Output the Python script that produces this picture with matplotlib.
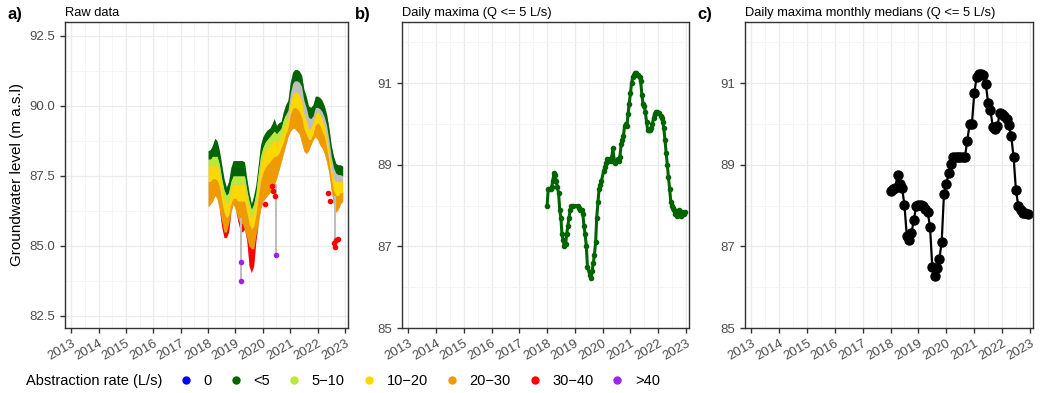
import numpy as np
import pandas as pd
import matplotlib
matplotlib.use("Agg")
import matplotlib.pyplot as plt
import matplotlib.dates as mdates
from matplotlib.lines import Line2D
from matplotlib.ticker import MultipleLocator, FixedLocator, FormatStrFormatter

plt.rcParams['font.family'] = ['Liberation Sans', 'DejaVu Sans']

# ---- data -------------------------------------------------------------
months = pd.date_range('2018-01-01', periods=60, freq='MS')

# panel a: raw data bands (top of green ... bottom of red), monthly
a_green_top = [88.4, 88.45, 88.6, 88.85, 88.75, 88.4, 87.9, 87.4, 87.1, 87.3, 87.8, 88.05,
               88.05, 88.05, 88.05, 88.05, 88.0, 87.4, 86.9, 86.5, 86.8, 87.2, 87.9, 88.6,
               88.9, 89.05, 89.15, 89.2, 89.35, 89.55, 89.3, 89.4, 89.45, 89.8, 90.05, 90.2,
               90.85, 91.2, 91.3, 91.3, 91.25, 91.1, 90.6, 90.35, 90.0, 89.95, 90.05, 90.35,
               90.35, 90.3, 90.2, 90.0, 89.7, 89.2, 88.6, 88.2, 87.95, 87.9, 87.9, 87.85]
a_green_bot = [88.1, 88.1, 88.2, 88.2, 88.2, 87.9, 87.4, 87.0, 86.8, 86.9, 87.3, 87.5,
               87.5, 87.5, 87.5, 87.5, 87.5, 87.0, 86.6, 86.3, 86.5, 86.9, 87.6, 88.2,
               88.5, 88.7, 88.8, 88.9, 89.0, 89.1, 89.0, 89.1, 89.2, 89.5, 89.7, 89.85,
               90.45, 90.8, 90.9, 90.9, 90.85, 90.7, 90.2, 89.95, 89.6, 89.55, 89.65, 89.95,
               89.95, 89.9, 89.8, 89.6, 89.3, 88.8, 88.2, 87.8, 87.6, 87.55, 87.55, 87.5]
a_yellow_top = [87.85, 87.85, 87.9, 87.85, 87.85, 87.6, 87.1, 86.7, 86.5, 86.6, 87.0, 87.2,
                87.2, 87.2, 87.2, 87.2, 87.2, 86.7, 86.3, 86.0, 86.2, 86.6, 87.3, 87.9,
                88.2, 88.4, 88.5, 88.6, 88.7, 88.8, 88.7, 88.8, 88.9, 89.2, 89.4, 89.55,
                90.1, 90.4, 90.5, 90.5, 90.4, 90.2, 89.7, 89.5, 89.2, 89.2, 89.4, 89.7,
                89.8, 89.7, 89.5, 89.3, 88.9, 88.4, 87.8, 87.4, 87.3, 87.3, 87.3, 87.3]
a_orange_top = [87.3, 87.3, 87.4, 87.4, 87.35, 87.1, 86.6, 86.2, 86.0, 86.1, 86.5, 86.7,
                86.7, 86.6, 86.6, 86.6, 86.6, 86.2, 85.8, 85.6, 85.7, 86.1, 86.7, 87.3,
                87.6, 87.8, 87.9, 88.0, 88.1, 88.2, 88.2, 88.3, 88.5, 88.7, 89.0, 89.2,
                89.7, 89.9, 89.95, 89.9, 89.8, 89.6, 89.2, 89.0, 88.8, 88.8, 89.0, 89.3,
                89.4, 89.3, 89.1, 88.9, 88.5, 88.0, 87.4, 87.0, 86.8, 86.8, 86.9, 86.9]
a_orange_bot = [86.4, 86.5, 86.6, 86.8, 86.7, 86.3, 85.9, 85.5, 85.5, 85.8, 86.2, 86.5,
                86.3, 86.0, 85.8, 85.8, 85.6, 85.3, 85.0, 84.9, 84.9, 85.4, 85.8, 86.3,
                86.6, 86.7, 86.8, 86.9, 87.0, 87.2, 87.4, 87.7, 88.0, 88.3, 88.6, 88.9,
                89.1, 89.2, 89.2, 89.1, 89.0, 88.7, 88.4, 88.3, 88.4, 88.6, 88.8, 88.9,
                88.8, 88.6, 88.5, 88.3, 88.0, 87.6, 87.0, 86.5, 86.2, 86.3, 86.5, 86.6]
a_red_bot = [86.4, 86.5, 86.6, 86.8, 86.7, 86.3, 85.7, 85.3, 85.3, 85.5, 86.2, 86.5,
             86.3, 85.9, 85.6, 85.5, 85.6, 85.2, 84.3, 84.05, 84.3, 85.2, 85.8, 86.3,
             86.6, 86.7, 86.8, 86.9, 87.0, 87.2, 87.4, 87.7, 88.0, 88.3, 88.6, 88.9,
             89.1, 89.2, 89.2, 89.1, 89.0, 88.7, 88.4, 88.3, 88.4, 88.6, 88.8, 88.9,
             88.8, 88.6, 88.5, 88.3, 88.0, 87.6, 87.0, 86.5, 86.2, 86.3, 86.5, 86.6]

# isolated low readings (gray line drops) in panel a
spike_dates = pd.to_datetime(['2019-03-20', '2020-06-18', '2022-08-20'])
spike_low = [83.75, 84.68, 84.97]
spike_high = [86.0, 87.2, 86.8]
red_dates = pd.to_datetime(['2020-01-25', '2020-05-05', '2020-05-20', '2020-06-10',
                            '2022-05-25', '2022-06-10', '2022-08-10', '2022-08-20',
                            '2022-09-05', '2022-10-05'])
red_vals = [86.5, 87.15, 86.95, 86.8, 86.9, 86.6, 85.1, 84.97, 85.2, 85.25]
purple_dates = pd.to_datetime(['2019-03-20', '2019-03-20', '2020-06-18'])
purple_vals = [84.44, 83.75, 84.68]

# panel b: daily maxima (Q <= 5 L/s)
b_dates = pd.to_datetime([
    '2018-01-01', '2018-01-15', '2018-02-01', '2018-02-15', '2018-03-01', '2018-03-15',
    '2018-04-01', '2018-04-15', '2018-05-01', '2018-05-15', '2018-06-01', '2018-06-15',
    '2018-07-01', '2018-07-15', '2018-08-01', '2018-08-15', '2018-09-01', '2018-09-15',
    '2018-10-01', '2018-10-15', '2018-11-01', '2018-11-15', '2018-12-01', '2019-02-15',
    '2019-03-01', '2019-03-15', '2019-04-01', '2019-04-15', '2019-05-01', '2019-05-15',
    '2019-06-01', '2019-06-15', '2019-07-15', '2019-08-01', '2019-08-15', '2019-09-01',
    '2019-09-15', '2019-10-01', '2019-10-15', '2019-11-01', '2019-11-15', '2019-12-01',
    '2019-12-15', '2020-01-15', '2020-02-01', '2020-02-15', '2020-03-01', '2020-03-15',
    '2020-04-01', '2020-04-15', '2020-05-01', '2020-05-15', '2020-06-01', '2020-06-15',
    '2020-07-01', '2020-07-15', '2020-08-01', '2020-08-15', '2020-09-01', '2020-09-15',
    '2020-10-01', '2020-10-15', '2020-11-01', '2020-11-15', '2020-12-01', '2020-12-15',
    '2021-01-01', '2021-01-15', '2021-02-01', '2021-02-15', '2021-03-01', '2021-03-15',
    '2021-04-01', '2021-04-15', '2021-05-01', '2021-05-15', '2021-06-01', '2021-06-15',
    '2021-07-01', '2021-07-15', '2021-08-01', '2021-08-15', '2021-09-01', '2021-09-15',
    '2021-10-01', '2021-10-15', '2021-11-01', '2021-11-15', '2021-12-01', '2021-12-15',
    '2022-01-15', '2022-02-01', '2022-02-15', '2022-03-01', '2022-03-15', '2022-04-01',
    '2022-04-15', '2022-05-01', '2022-05-15', '2022-06-01', '2022-06-15', '2022-07-01',
    '2022-07-15', '2022-08-01', '2022-08-15', '2022-09-01', '2022-09-15', '2022-10-01',
    '2022-10-15', '2022-11-01', '2022-11-15', '2022-12-01', '2022-12-15'])
b_vals = [88.0, 88.4, 88.4, 88.4, 88.45, 88.6,
          88.8, 88.75, 88.6, 88.45, 88.3, 87.9,
          87.7, 87.3, 87.15, 87.0, 87.05, 87.3,
          87.5, 87.7, 87.9, 88.0, 88.0, 88.0,
          87.95, 87.9, 87.9, 87.8, 87.5, 87.3,
          87.0, 86.5, 86.3, 86.22, 86.4, 86.6,
          86.8, 87.1, 87.7, 88.1, 88.4, 88.5,
          88.6, 88.85, 88.95, 89.05, 89.15, 89.1,
          89.15, 89.1, 89.2, 89.4, 89.1, 89.05,
          89.1, 89.15, 89.1, 89.2, 89.5, 89.6,
          89.7, 89.95, 90.0, 89.95, 90.25, 90.5,
          90.75, 91.0, 91.15, 91.2, 91.25, 91.25,
          91.2, 91.2, 91.15, 91.05, 90.7, 90.5,
          90.45, 90.3, 90.05, 89.85, 89.85, 89.85,
          89.9, 90.0, 90.15, 90.25, 90.3, 90.3,
          90.28, 90.2, 90.15, 90.05, 89.9, 89.6,
          89.3, 89.0, 88.7, 88.4, 88.1, 88.0,
          87.95, 87.9, 87.8, 87.75, 87.85, 87.9,
          87.8, 87.75, 87.85, 87.8, 87.85]

# panel c: monthly medians of daily maxima
c_vals = [88.36, 88.40, 88.42, 88.75, 88.53, 88.42, 88.01, 87.26, 87.15, 87.33, 87.64, 87.99,
          88.02, 88.02, 87.98, 87.92, 87.85, 87.48, 86.50, 86.27, 86.46, 86.68, 87.11, 88.28,
          88.53, 88.79, 89.03, 89.18, 89.19, 89.19, 89.19, 89.19, 89.19, 89.59, 89.99, 90.00,
          90.75, 91.15, 91.22, 91.22, 91.20, 90.99, 90.52, 90.34, 89.93, 89.88, 89.95, 90.27,
          90.25, 90.20, 90.13, 89.97, 89.70, 89.18, 88.38, 88.00, 87.89, 87.82, 87.82, 87.80]

bc_yticks = [85, 87, 89, 91]
legend_labels = ['0', '<5', '5\u221210', '10\u221220', '20\u221230', '30\u221240', '>40']
legend_colors = ['#0000FF', '#006400', '#B8E83A', '#FFD700', '#EE9A00', '#FF0000', '#A020F0']

# ---- figure -----------------------------------------------------------
fig = plt.figure(figsize=(10.41, 3.93), dpi=100)
W, H = 1041, 393
def box(l, r, t=22, b=328):
    return [l / W, 1 - b / H, (r - l) / W, (b - t) / H]

ax_a = fig.add_axes(box(65, 348))
ax_b = fig.add_axes(box(402, 689))
ax_c = fig.add_axes(box(745, 1033))

for ax in (ax_a, ax_b, ax_c):
    ax.set_xlim(pd.Timestamp('2012-10-10'), pd.Timestamp('2023-02-10'))
    ax.xaxis.set_major_locator(mdates.YearLocator())
    ax.xaxis.set_major_formatter(mdates.DateFormatter('%Y'))
    ax.xaxis.set_minor_locator(mdates.MonthLocator(bymonth=7))
    ax.grid(which='major', color='#EBEBEB', lw=0.9)
    ax.grid(which='minor', color='#F4F4F4', lw=0.6)
    ax.set_axisbelow(True)
    for s in ax.spines.values():
        s.set_color('#333333')
        s.set_linewidth(1.0)
    ax.tick_params(which='major', length=3.5, width=1.0, color='#333333',
                   labelsize=9.5, labelcolor='#4D4D4D')
    ax.tick_params(which='minor', length=0)
    for lab in ax.get_xticklabels():
        lab.set_rotation(30)
        lab.set_ha('right')
        lab.set_rotation_mode('anchor')

# panel a
ax_a.set_ylim(82.07, 93.0)
ax_a.yaxis.set_major_locator(MultipleLocator(2.5))
ax_a.yaxis.set_minor_locator(MultipleLocator(1.25))
ax_a.yaxis.set_major_formatter(FormatStrFormatter('%.1f'))
ax_a.fill_between(months, a_red_bot, a_green_top, color='#BEBEBE', lw=0)
ax_a.vlines(spike_dates, spike_low, spike_high, color='#BEBEBE', lw=1.5)
ax_a.fill_between(months, a_green_bot, a_green_top, color=legend_colors[1], lw=0)
lg_mask = months < pd.Timestamp('2020-12-01')
ax_a.fill_between(months, a_yellow_top, a_green_bot, where=lg_mask, interpolate=True,
                  color=legend_colors[2], lw=0)
ax_a.fill_between(months, a_orange_top, a_yellow_top, color=legend_colors[3], lw=0)
ax_a.fill_between(months, a_orange_bot, a_orange_top, color=legend_colors[4], lw=0)
ax_a.fill_between(months, a_red_bot, a_orange_bot, color=legend_colors[5], lw=0)
ax_a.scatter(red_dates, red_vals, s=9, color=legend_colors[5], zorder=3)
ax_a.scatter(purple_dates, purple_vals, s=9, color=legend_colors[6], zorder=3)
ax_a.set_ylabel('Groundwater level (m a.s.l)', fontsize=11, labelpad=4)

# panel b
ax_b.plot(b_dates, b_vals, color='#006400', lw=2.2, marker='o', ms=3)

# panel c
ax_c.plot(months, c_vals, color='black', lw=1.6, marker='o', ms=6.5)

for ax in (ax_b, ax_c):
    ax.set_ylim(85, 92.5)
    ax.yaxis.set_major_locator(FixedLocator(bc_yticks))
    ax.yaxis.set_minor_locator(MultipleLocator(2))

# titles and panel letters
for ax, t in ((ax_a, 'Raw data'), (ax_b, 'Daily maxima (Q <= 5 L/s)'),
              (ax_c, 'Daily maxima monthly medians (Q <= 5 L/s)')):
    ax.set_title(t, loc='left', fontsize=9.3, pad=4)
for x, lab in ((8, 'a)'), (355, 'b)'), (697, 'c)')):
    fig.text(x / W, 1 - 15 / H, lab, fontsize=12, fontweight='bold', va='center')

# legend
fig.text(26 / W, 1 - 381 / H, 'Abstraction rate (L/s)', fontsize=10.5, va='center')
handles = [Line2D([], [], ls='', marker='o', ms=5, color=c) for c in legend_colors]
fig.legend(handles, legend_labels, loc='center left', bbox_to_anchor=(179 / W, 1 - 381 / H),
           ncol=7, frameon=False, fontsize=10.5, handlelength=1.0, handletextpad=0.7,
           columnspacing=1.15, borderaxespad=0, borderpad=0)

fig.savefig('out.png', dpi=100)
